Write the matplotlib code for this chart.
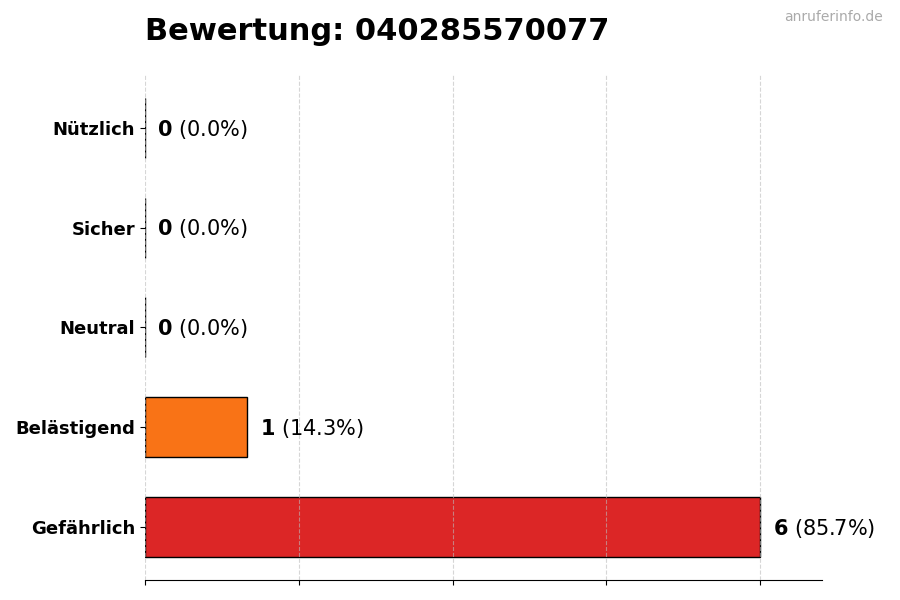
import matplotlib.pyplot as plt

categories = ["Gefährlich", "Belästigend", "Neutral", "Sicher", "Nützlich"]
counts = [6, 1, 0, 0, 0]
colors = ["#dc2626", "#f97316", "#6b7280", "#3b82f6", "#16a34a"]
title = "Bewertung: 040285570077"
watermark = "anruferinfo.de"

total = sum(counts)

fig = plt.figure(figsize=(9, 6), dpi=100)
ax = fig.add_axes([0.161, 0.0333, 0.752, 0.842])

ypos = list(range(len(categories)))
ax.barh(ypos, counts, height=0.6, color=colors, edgecolor="black",
        linewidth=1, zorder=2)

for y, c in zip(ypos, counts):
    pct = c / total * 100 if total else 0
    ax.annotate("$\\bf{%d}$ (%.1f%%)" % (c, pct), xy=(c, y),
                xytext=(9, -1), textcoords="offset points",
                va="center", ha="left", fontsize=15)

ax.set_yticks(ypos)
ax.set_yticklabels(categories, fontsize=13, fontweight="bold")
ax.set_xlim(0, max(counts) * 1.1)
ax.set_xticks([0, 1.5, 3, 4.5, 6])
ax.set_xticklabels([])
ax.set_axisbelow(False)
ax.grid(axis="x", linestyle="--", color="#bbbbbb", alpha=0.6)
for side in ["top", "right", "left"]:
    ax.spines[side].set_visible(False)

fig.text(0.161, 0.947, title, fontsize=22, fontweight="bold",
         ha="left", va="center")
fig.text(0.981, 0.971, watermark, fontsize=10, color="#aaaaaa",
         ha="right", va="center")

fig.savefig("out.png", dpi=100)
